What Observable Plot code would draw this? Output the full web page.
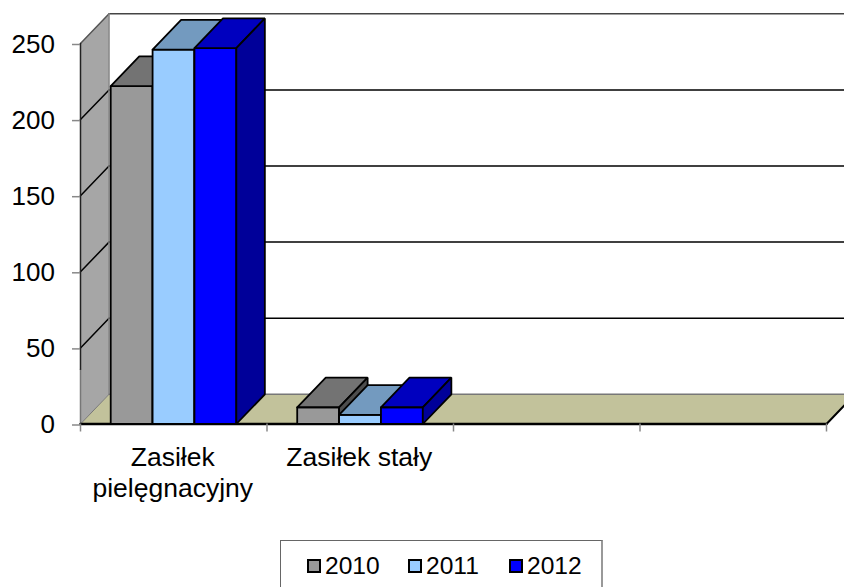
<!DOCTYPE html>
<html><head><meta charset="utf-8">
<script src="https://cdn.jsdelivr.net/npm/d3@7"></script>
<script src="https://cdn.jsdelivr.net/npm/@observablehq/plot@0.6"></script>
<style>
html,body{margin:0;padding:0;background:#fff;overflow:hidden}
#chart svg{display:block}
#legend{position:relative;width:844px;height:57px;overflow:hidden;font-family:"Liberation Sans",Arial,sans-serif;font-size:24.6px;color:#000}
#box{position:absolute;left:280px;top:10px;width:320px;height:60px;border:1px solid #666;border-right:2px solid #999;border-bottom:0}
.it{position:absolute;top:11px;display:flex;align-items:center;line-height:28px}
.sw{display:inline-block;width:10px;height:10px;border:2.5px solid #000;margin-right:4px}
</style></head><body>
<div id="chart"></div>
<div id="legend"><div id="box"></div></div>
<script>
const categories = ["Zasiłek\npielęgnacyjny", "Zasiłek stały"];
const years = ["2010", "2011", "2012"];
const v2010 = [222, 11];
const v2011 = [246, 6];
const v2012 = [247, 11];
const yTicks = [0, 50, 100, 150, 200, 250];
const slotCount = 4;
const series = [v2010, v2011, v2012];
const frontColors = ["#999999", "#99CCFF", "#0000FF"];
const topColors = ["#737373", "#739ABF", "#0000BF"];
const sideColors = ["#4D4D4D", "#4D6680", "#000099"];
const wallColor = "#A6A6A6";
const floorColor = "#C2C29B";

const dx = 0.153, dy = 19.5;      // 3-D depth, in data units
const barW = 0.2245, gap0 = 0.162; // bar width and left gap inside a category

const poly = (pts, fill, stroke, sw) => Plot.line([...pts, pts[0]], {
  x: d => d[0], y: d => d[1], fill, stroke, strokeWidth: sw, curve: "linear", strokeLinejoin: "miter"
});
const seg = (a, b, stroke, sw) => Plot.line([a, b], {
  x: d => d[0], y: d => d[1], stroke, strokeWidth: sw
});

const marks = [];
// walls and floor
marks.push(poly([[0,0],[dx,dy],[dx,250+dy],[0,250]], wallColor, "none", 0));
marks.push(poly([[0,0],[slotCount,0],[slotCount+dx,dy],[dx,dy]], floorColor, "none", 0));
// gridlines on back wall and left wall
for (const t of yTicks) {
  if (t > 0 && t < 250) marks.push(seg([dx, t+dy], [slotCount+dx, t+dy], "#000", 1.5));
  if (t > 0 && t < 250) marks.push(seg([0, t], [dx, t+dy], "#000", 1.5));
}
marks.push(seg([0, 250], [dx, 250+dy], "#555", 1.5));
marks.push(seg([0, 0], [dx, dy], "#777", 1));
marks.push(seg([dx, dy], [slotCount+dx, dy], "#777", 1.5));
marks.push(seg([dx, 250+dy], [slotCount+dx, 250+dy], "#444", 1.5));
marks.push(seg([dx, dy], [dx, 250+dy], "#888", 1.5));
marks.push(seg([0, 0], [0, 36], "#777", 1.5));
marks.push(seg([0, 36], [0, 250], "#222", 1.5));
marks.push(seg([0, 0], [slotCount, 0], "#000", 2.5));
marks.push(seg([slotCount, 0], [slotCount+dx, dy], "#000", 2));
// bars
categories.forEach((c, i) => {
  series.forEach((s, k) => {
    const x0 = i + gap0 + k * barW, x1 = x0 + barW, v = s[i];
    marks.push(poly([[x0,0],[x1,0],[x1,v],[x0,v]], frontColors[k], "#000", 1.8));
    marks.push(poly([[x0,v],[x1,v],[x1+dx,v+dy],[x0+dx,v+dy]], topColors[k], "#000", 1.8));
    marks.push(poly([[x1,0],[x1+dx,dy],[x1+dx,v+dy],[x1,v]], sideColors[k], "#000", 1.8));
  });
});

const fontFamily = '"Liberation Sans", Arial, sans-serif';
const plot = Plot.plot({
  width: 844, height: 530,
  marginLeft: 80, marginRight: 18, marginTop: 43, marginBottom: 106.5,
  style: {background: "#fff", fontFamily, fontSize: "26px", color: "#000"},
  x: {domain: [0, slotCount], axis: null},
  y: {domain: [0, 250], axis: null},
  marks: [
    ...marks,
    Plot.axisY({ticks: yTicks, tickSize: 8, tickPadding: 17.5, stroke: "#888", strokeWidth: 1.5, fontSize: 26, label: null, tickFormat: d => String(d), fill: "#000", dy: 1}),
    Plot.axisX({ticks: d3.range(0, slotCount + 1), tickSize: 8, tickFormat: () => "", stroke: "#888", strokeWidth: 1.5, label: null}),
    Plot.axisX({ticks: categories.map((c, i) => i + 0.5), tickSize: 0, tickPadding: 19, fontSize: 26.5, lineHeight: 1.2, fill: "#000", label: null, dx: -1,
      tickFormat: d => categories[d - 0.5]})
  ]
});
document.getElementById("chart").appendChild(plot);

const box = document.getElementById("box");
const lefts = [26, 127, 228];
years.forEach((y, k) => {
  const it = document.createElement("div");
  it.className = "it"; it.style.left = lefts[k] + "px";
  const sw = document.createElement("span");
  sw.className = "sw"; sw.style.background = frontColors[k];
  it.appendChild(sw);
  it.appendChild(document.createTextNode(y));
  box.appendChild(it);
});
</script>
</body></html>
